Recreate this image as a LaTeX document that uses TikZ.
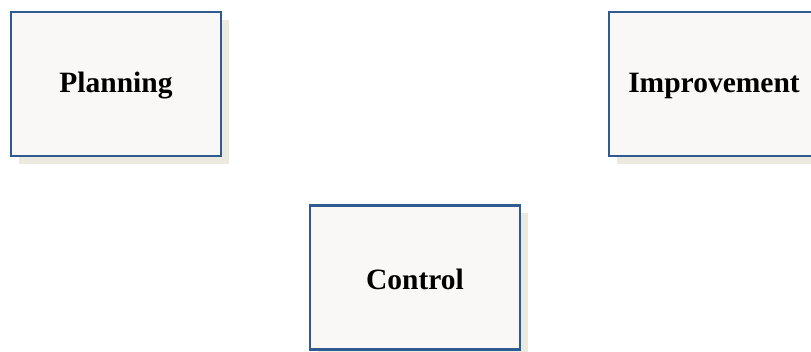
\documentclass[tikz,border=0pt]{standalone}
\usepackage{fontspec}
\setmainfont{Liberation Serif}
\usetikzlibrary{shadows}
\definecolor{boxline}{HTML}{2F5A92}
\definecolor{boxfill}{HTML}{F9F8F6}
\definecolor{shadowc}{HTML}{ECE9DF}
\tikzset{
  stagebox/.style={draw=boxline, line width=2.4pt, fill=boxfill,
    minimum width=210pt, minimum height=144pt, inner sep=0pt,
    font=\fontsize{29.5}{30}\selectfont\bfseries,
    drop shadow={shadow xshift=8pt, shadow yshift=-8pt, fill=shadowc, opacity=1}},
  stagelabel/.style={font=\fontsize{29.5}{30}\selectfont\bfseries, inner sep=0pt}
}
\begin{document}
\begin{tikzpicture}[x=1pt,y=1pt]
\useasboundingbox (0,0) rectangle (811,-352);
\node[stagebox] (plan) at (116,-84) {};
\node[stagebox] (impr) at (714,-84) {};
\node[stagebox] (ctrl) at (415,-277.5) {};
\node[stagelabel] (planT) at ([yshift=-2pt]plan.center) {Planning};
\node[stagelabel] (imprT) at ([yshift=-2pt]impr.center) {Improvement};
\node[stagelabel] (ctrlT) at ([yshift=-2pt]ctrl.center) {Control};
\end{tikzpicture}
\end{document}
